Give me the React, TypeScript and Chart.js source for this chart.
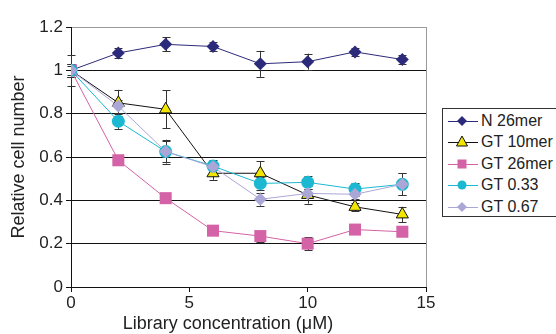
import React, { useEffect, useRef } from "react";
import { Chart, registerables } from "chart.js";

Chart.register(...registerables);

const concentrations = [0, 2, 4, 6, 8, 10, 12, 14];
const n26mer = [1.0, 1.08, 1.12, 1.11, 1.03, 1.04, 1.085, 1.05];
const n26merErr = [0.07, 0.025, 0.033, 0.023, 0.06, 0.037, 0.02, 0.02];
const gt10mer = [1.0, 0.85, 0.82, 0.525, 0.525, 0.425, 0.37, 0.335];
const gt10merErr = [0.03, 0.06, 0.088, 0.03, 0.055, 0.04, 0.02, 0.035];
const gt26mer = [1.0, 0.585, 0.41, 0.26, 0.235, 0.2, 0.265, 0.255];
const gt26merErr = [0.02, 0.02, 0.01, 0.01, 0.025, 0.03, 0.01, 0.01];
const gt033 = [1.0, 0.765, 0.625, 0.558, 0.478, 0.483, 0.452, 0.474];
const gt033Err = [0.03, 0.035, 0.055, 0.02, 0.03, 0.03, 0.03, 0.05];
const gt067 = [1.0, 0.835, 0.625, 0.555, 0.405, 0.432, 0.428, 0.474];
const gt067Err = [0.03, 0.03, 0.05, 0.03, 0.03, 0.02, 0.02, 0.05];

const seriesNames = ["N 26mer", "GT 10mer", "GT 26mer", "GT 0.33", "GT 0.67"];
const seriesValues = [n26mer, gt10mer, gt26mer, gt033, gt067];
const seriesErrors = [n26merErr, gt10merErr, gt26merErr, gt033Err, gt067Err];
const lineColors = ["#2c2a7a", "#111111", "#d462a6", "#1cb8d2", "#aaa7d6"];
const fillColors = ["#2c2a7a", "#f2e600", "#d462a6", "#1cb8d2", "#aaa7d6"];
const borderColors = ["#2c2a7a", "#111111", "#d462a6", "#1cb8d2", "#aaa7d6"];
const pointStyles = ["rectRot", "triangle", "rect", "circle", "rectRot"];
const pointRadii = [6.5, 7, 8.5, 6.5, 6.5];

const xTitle = "Library concentration (\u03bcM)";
const yTitle = "Relative cell number";

const FONT = "'Liberation Sans', Arial, sans-serif";

const errorBarPlugin = {
  id: "errorBars",
  beforeDatasetsDraw(chart: any) {
    const { ctx } = chart;
    const xs = chart.scales.x;
    const ys = chart.scales.y;
    ctx.save();
    ctx.strokeStyle = "#333";
    ctx.lineWidth = 1;
    chart.data.datasets.forEach((ds: any) => {
      const errs: number[] = ds.errors || [];
      ds.data.forEach((p: any, i: number) => {
        const e = errs[i];
        if (!e) return;
        const px = Math.round(xs.getPixelForValue(p.x)) + 0.5;
        const top = ys.getPixelForValue(p.y + e);
        const bot = ys.getPixelForValue(p.y - e);
        ctx.beginPath();
        ctx.moveTo(px, top);
        ctx.lineTo(px, bot);
        ctx.moveTo(px - 4, Math.round(top) + 0.5);
        ctx.lineTo(px + 4, Math.round(top) + 0.5);
        ctx.moveTo(px - 4, Math.round(bot) + 0.5);
        ctx.lineTo(px + 4, Math.round(bot) + 0.5);
        ctx.stroke();
      });
    });
    ctx.restore();
  },
};

const xTitlePlugin = {
  id: "xTitleShifted",
  afterDraw(chart: any) {
    const { ctx } = chart;
    ctx.save();
    ctx.fillStyle = "#222";
    ctx.font = `18px ${FONT}`;
    ctx.textAlign = "center";
    ctx.textBaseline = "middle";
    ctx.fillText(xTitle, 228, 324);
    ctx.restore();
  },
};

function LegendMarker({ i }: { i: number }) {
  const cx = 15;
  const cy = 9;
  let shape: any = null;
  const s = pointStyles[i];
  if (s === "rectRot") {
    const r = 5;
    shape = <polygon points={`${cx},${cy - r} ${cx + r},${cy} ${cx},${cy + r} ${cx - r},${cy}`} fill={fillColors[i]} />;
  } else if (s === "triangle") {
    shape = <polygon points={`${cx},${cy - 6} ${cx + 5.5},${cy + 4} ${cx - 5.5},${cy + 4}`} fill={fillColors[i]} stroke="#111" strokeWidth={1} />;
  } else if (s === "rect") {
    shape = <rect x={cx - 4.5} y={cy - 4.5} width={9} height={9} fill={fillColors[i]} />;
  } else {
    shape = <circle cx={cx} cy={cy} r={4.5} fill={fillColors[i]} />;
  }
  return (
    <svg width={32} height={18} style={{ display: "block" }}>
      <line x1={1} y1={cy + 0.5} x2={31} y2={cy + 0.5} stroke={lineColors[i]} strokeWidth={1} />
      {shape}
    </svg>
  );
}

export default function App() {
  const canvasRef = useRef<HTMLCanvasElement | null>(null);

  useEffect(() => {
    if (!canvasRef.current) return;
    const datasets = seriesNames.map((name, i) => ({
      label: name,
      data: concentrations.map((x, j) => ({ x, y: seriesValues[i][j] })),
      errors: seriesErrors[i],
      borderColor: lineColors[i],
      backgroundColor: fillColors[i],
      pointBackgroundColor: fillColors[i],
      pointBorderColor: borderColors[i],
      pointBorderWidth: i === 1 ? 1 : 0,
      pointStyle: pointStyles[i],
      pointRadius: pointRadii[i],
      borderWidth: 1,
      tension: 0,
      fill: false,
      order: seriesNames.length - 1 - i,
    }));

    const chart = new Chart(canvasRef.current, {
      type: "line",
      data: { datasets } as any,
      options: {
        animation: false,
        responsive: false,
        maintainAspectRatio: false,
        layout: { padding: { left: 0, right: 130, top: 27, bottom: 0 } },
        plugins: { legend: { display: false }, tooltip: { enabled: false } },
        scales: {
          x: {
            type: "linear",
            min: 0,
            max: 15,
            afterFit: (scale: any) => {
              scale.height = 47;
            },
            ticks: {
              stepSize: 5,
              color: "#222",
              padding: 1,
              font: { family: FONT, size: 17 },
              maxRotation: 0,
            },
            grid: {
              color: (c: any) => (c.tick && c.tick.value === 15 ? "#9a9a9a" : "rgba(0,0,0,0)"),
              tickColor: "#111",
              tickLength: 5,
              lineWidth: 1,
            },
            border: { color: "#111", width: 1 },
            title: { display: false },
          },
          y: {
            type: "linear",
            min: 0,
            max: 1.2,
            afterFit: (scale: any) => {
              scale.width = 71;
            },
            ticks: {
              stepSize: 0.2,
              color: "#222",
              padding: 3,
              font: { family: FONT, size: 17 },
              callback: (v: any) => String(Number(Number(v).toFixed(1))),
            },
            grid: {
              color: (c: any) => (c.tick && Math.abs(c.tick.value - 1.2) < 1e-6 ? "#9a9a9a" : "#111"),
              tickColor: "#111",
              tickLength: 5,
              lineWidth: 1,
            },
            border: { color: "#111", width: 1 },
            title: {
              display: true,
              text: yTitle,
              color: "#222",
              font: { family: FONT, size: 18 },
              padding: { top: 8, bottom: 0 },
            },
          },
        },
      },
      plugins: [errorBarPlugin, xTitlePlugin],
    });
    return () => chart.destroy();
  }, []);

  return (
    <div style={{ position: "fixed", left: 0, top: 0, width: 556, height: 334, background: "#fff", overflow: "hidden" }}>
      <canvas ref={canvasRef} width={556} height={334} style={{ width: 556, height: 334, display: "block" }} />
      <div
        style={{
          position: "absolute",
          left: 442,
          top: 108,
          width: 130,
          height: 109,
          border: "1px solid #333",
          boxSizing: "border-box",
          background: "#fff",
          paddingTop: 1,
        }}
      >
        {seriesNames.map((name, i) => (
          <div key={name} style={{ display: "flex", alignItems: "center", height: 21.5 }}>
            <div style={{ marginLeft: 4 }}>
              <LegendMarker i={i} />
            </div>
            <span style={{ fontFamily: FONT, fontSize: 16, color: "#222", marginLeft: 2, whiteSpace: "nowrap" }}>{name}</span>
          </div>
        ))}
      </div>
    </div>
  );
}
